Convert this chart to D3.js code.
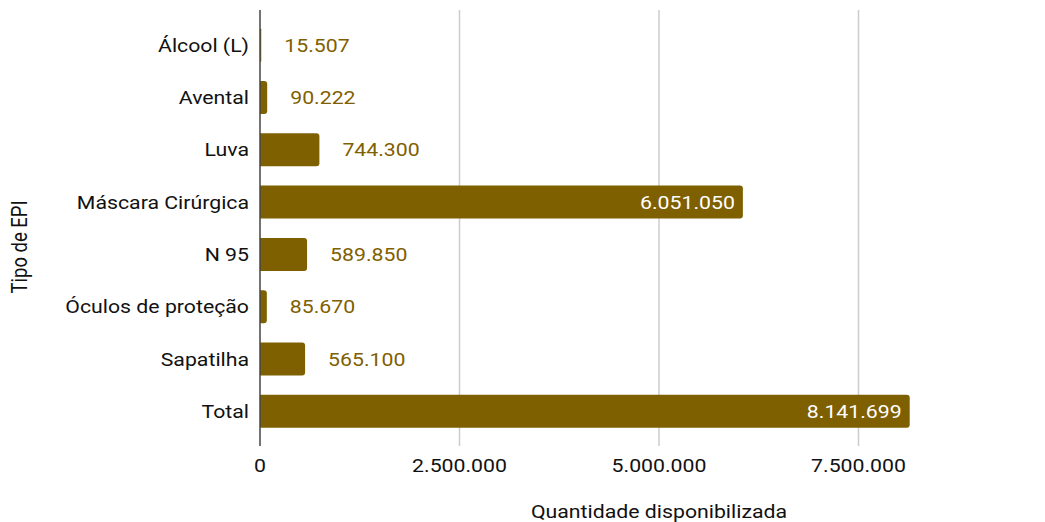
<!DOCTYPE html>
<html><head><meta charset="utf-8">
<script src="https://cdn.jsdelivr.net/npm/d3@7"></script>
<style>body{margin:0;background:#fff}svg{display:block}text{font-family:Roboto,sans-serif}</style>
</head><body><svg id="c" width="1045" height="522"></svg>
<script>
const categories = ["Álcool (L)","Avental","Luva","Máscara Cirúrgica","N 95","Óculos de proteção","Sapatilha","Total"];
const values = [15507,90222,744300,6051050,589850,85670,565100,8141699];
const ticks = [0,2500000,5000000,7500000];
const tickLabels = ["0","2.500.000","5.000.000","7.500.000"];
const fmt = v => d3.format(",")(v).replace(/,/g,".");

const svg = d3.select("#c");
const x = d3.scaleLinear().domain([0,2500000]).range([260,459.5]);
const y = d3.scaleBand().domain(categories).range([19,437.5]).paddingInner(0.37).paddingOuter(0.185);
const color = "#7f6000";
const FS = 18.5, SX = 1.15;
const tr = (px,py) => `translate(${px},${py}) scale(${SX},1)`;

svg.append("g").selectAll("line").data(ticks.slice(1)).join("line")
  .attr("x1",d=>x(d)).attr("x2",d=>x(d)).attr("y1",10).attr("y2",446)
  .attr("stroke","#cccccc").attr("stroke-width",1.5);

const r = 3;
svg.append("g").selectAll("path").data(values).join("path")
  .attr("fill",color)
  .attr("d",(d,i)=>{
    const x0=x(0), x1=x(d), y0=y(categories[i]), h=y.bandwidth();
    const rr=Math.min(r,(x1-x0)/2);
    return `M${x0},${y0}H${x1-rr}Q${x1},${y0} ${x1},${y0+rr}V${y0+h-rr}Q${x1},${y0+h} ${x1-rr},${y0+h}H${x0}Z`;
  });

svg.append("line").attr("x1",260).attr("x2",260).attr("y1",10).attr("y2",446)
  .attr("stroke","#444").attr("stroke-width",1.5);

svg.append("g").selectAll("text").data(values).join("text")
  .attr("transform",(d,i)=>tr(d>3000000 ? x(d)-8 : x(d)+23, y(categories[i])+y.bandwidth()/2))
  .attr("dy","0.35em")
  .attr("text-anchor",d=> d>3000000 ? "end":"start")
  .attr("fill",d=> d>3000000 ? "#ffffff" : "#7f6000")
  .attr("font-size",FS)
  .text(d=>fmt(d));

svg.append("g").selectAll("text").data(categories).join("text")
  .attr("transform",d=>tr(249, y(d)+y.bandwidth()/2)).attr("dy","0.35em")
  .attr("text-anchor","end").attr("font-size",FS).attr("fill","#111").text(d=>d);

svg.append("g").selectAll("text").data(ticks).join("text")
  .attr("transform",d=>tr(x(d),466)).attr("dy","0.35em").attr("text-anchor","middle")
  .attr("font-size",FS).attr("fill","#111").text((d,i)=>tickLabels[i]);

svg.append("text").attr("transform",tr(659,512)).attr("dy","0.35em").attr("text-anchor","middle")
  .attr("font-size",FS).attr("fill","#111").text("Quantidade disponibilizada");
svg.append("text").attr("transform","translate(20,247) rotate(-90) scale(1,1.15)").attr("dy","0.35em")
  .attr("text-anchor","middle").attr("font-size",FS).attr("fill","#111").text("Tipo de EPI");
</script></body></html>
